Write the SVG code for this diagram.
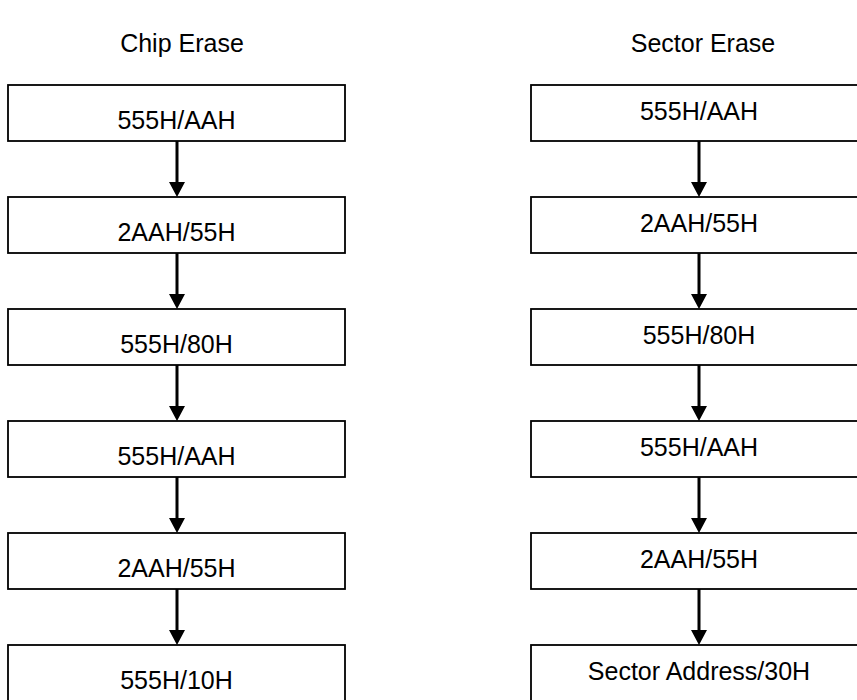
<svg xmlns="http://www.w3.org/2000/svg" width="857" height="700" viewBox="0 0 857 700">
<style>
text{font-family:"Liberation Sans",Arial,sans-serif;font-size:25px;fill:#000;text-anchor:middle}
.box{fill:#fff;stroke:#000;stroke-width:1.8}
.arr{stroke:#000;stroke-width:3;fill:none}
</style>
<rect width="857" height="700" fill="#fff"/>
<text x="182" y="52">Chip Erase</text>
<text x="703" y="52">Sector Erase</text>
<g id="c1"><rect class="box" x="8" y="85" width="337" height="56"/><text x="176.5" y="129">555H/AAH</text></g>
<g id="c2"><rect class="box" x="8" y="197" width="337" height="56"/><text x="176.5" y="241">2AAH/55H</text></g>
<g id="c3"><rect class="box" x="8" y="309" width="337" height="56"/><text x="176.5" y="353">555H/80H</text></g>
<g id="c4"><rect class="box" x="8" y="421" width="337" height="56"/><text x="176.5" y="465">555H/AAH</text></g>
<g id="c5"><rect class="box" x="8" y="533" width="337" height="56"/><text x="176.5" y="577">2AAH/55H</text></g>
<g id="c6"><rect class="box" x="8" y="645" width="337" height="56"/><text x="176.5" y="689">555H/10H</text></g>
<g id="s1"><rect class="box" x="531" y="85" width="337" height="56"/><text x="699" y="120">555H/AAH</text></g>
<g id="s2"><rect class="box" x="531" y="197" width="337" height="56"/><text x="699" y="232">2AAH/55H</text></g>
<g id="s3"><rect class="box" x="531" y="309" width="337" height="56"/><text x="699" y="344">555H/80H</text></g>
<g id="s4"><rect class="box" x="531" y="421" width="337" height="56"/><text x="699" y="456">555H/AAH</text></g>
<g id="s5"><rect class="box" x="531" y="533" width="337" height="56"/><text x="699" y="568">2AAH/55H</text></g>
<g id="s6"><rect class="box" x="531" y="645" width="337" height="56"/><text x="699" y="680">Sector Address/30H</text></g>
<g id="connectors" fill="#000">
<path class="arr" d="M177,141V183M177,253V295M177,365V407M177,477V519M177,589V631"/>
<path class="arr" d="M699,141V183M699,253V295M699,365V407M699,477V519M699,589V631"/>
<path d="M169,182H185L177,197ZM169,294H185L177,309ZM169,406H185L177,421ZM169,518H185L177,533ZM169,630H185L177,645Z"/>
<path d="M691,182H707L699,197ZM691,294H707L699,309ZM691,406H707L699,421ZM691,518H707L699,533ZM691,630H707L699,645Z"/>
</g>
</svg>
